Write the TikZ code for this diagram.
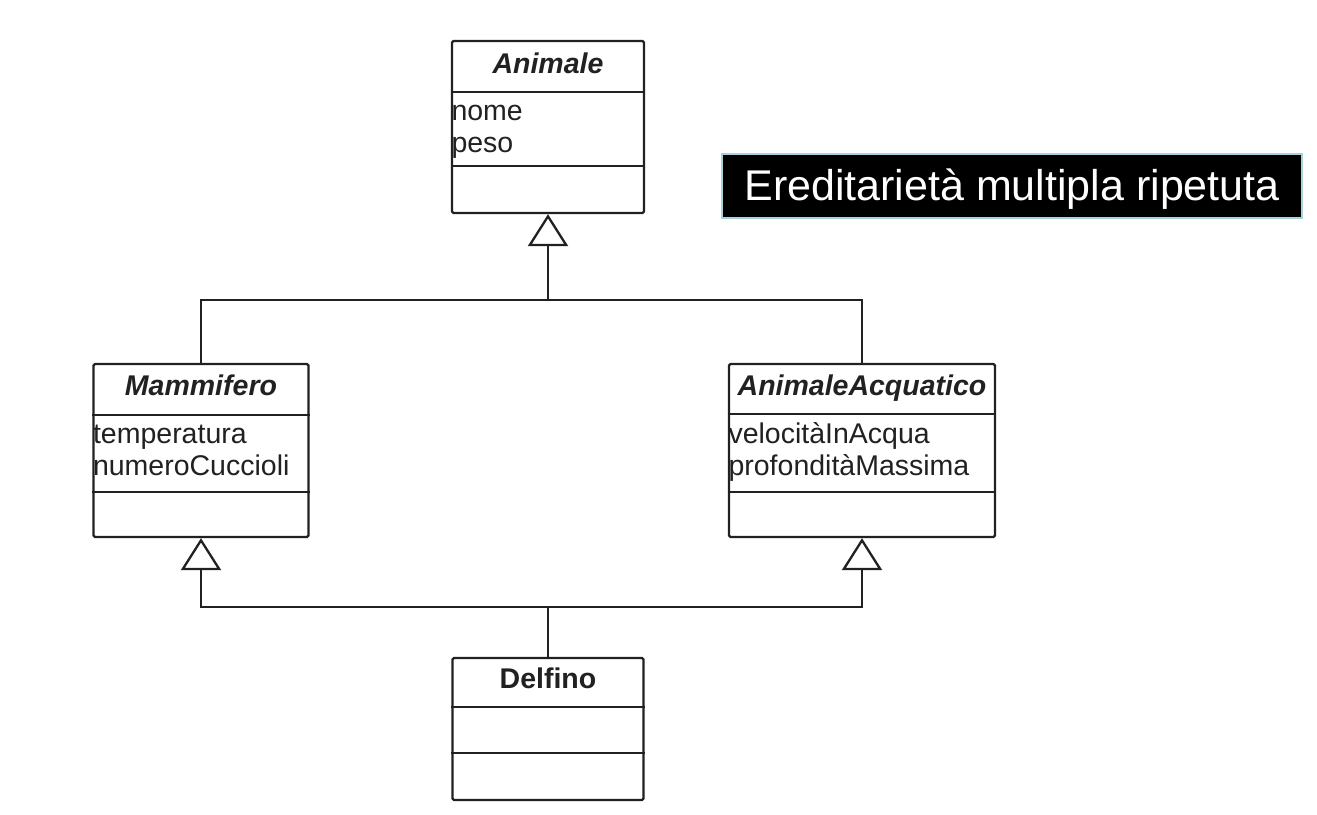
\documentclass[tikz,border=0pt]{standalone}
\usepackage{fontspec}
\setmainfont{Liberation Sans}
\usetikzlibrary{arrows.meta,calc}
\definecolor{ink}{gray}{0.13}
\definecolor{edgeblue}{HTML}{A9D3DB}
\begin{document}
\begin{tikzpicture}[x=1pt,y=-1pt,
  classbox/.style={draw=ink, line width=2.3pt, rounded corners=1.5pt, inner sep=0pt, fill=white},
  cname/.style={font=\fontsize{28.5}{33}\selectfont\bfseries\itshape, text=ink, inner sep=0pt, anchor=base},
  cnameup/.style={font=\fontsize{28.5}{33}\selectfont\bfseries, text=ink, inner sep=0pt, anchor=base},
  attr/.style={font=\fontsize{28.5}{33}\selectfont, text=ink, inner sep=0pt, anchor=base west},
  divider/.style={draw=ink, line width=2.3pt},
  link/.style={draw=ink, line width=2.3pt},
  gen/.style={link, -{Triangle[open, length=32pt, width=40pt]}}
]
\useasboundingbox (0,0) rectangle (1317,814);

% Animale
\node[classbox, minimum width=192pt, minimum height=172pt] (animale) at (548,127) {};
\draw[divider] ($(animale.north west)+(0,52)$) -- ($(animale.north east)+(0,52)$);
\draw[divider] ($(animale.north west)+(0,126)$) -- ($(animale.north east)+(0,126)$);
\node[cname] (animaleN) at ($(animale.north)+(0,34)$) {Animale};
\node[attr] (animaleA1) at ($(animale.north west)+(0.5,81)$) {nome};
\node[attr] (animaleA2) at ($(animale.north west)+(0.5,113)$) {peso};

% Mammifero
\node[classbox, minimum width=215pt, minimum height=173pt] (mamm) at (201,450.5) {};
\draw[divider] ($(mamm.north west)+(0,52)$) -- ($(mamm.north east)+(0,52)$);
\draw[divider] ($(mamm.north west)+(0,129)$) -- ($(mamm.north east)+(0,129)$);
\node[cname] (mammN) at ($(mamm.north)+(0,33)$) {Mammifero};
\node[attr] (mammA1) at ($(mamm.north west)+(0.5,81)$) {temperatura};
\node[attr] (mammA2) at ($(mamm.north west)+(0.5,113)$) {numeroCuccioli};

% AnimaleAcquatico
\node[classbox, minimum width=266pt, minimum height=173pt] (acq) at (862,450.5) {};
\draw[divider] ($(acq.north west)+(0,51)$) -- ($(acq.north east)+(0,51)$);
\draw[divider] ($(acq.north west)+(0,129)$) -- ($(acq.north east)+(0,129)$);
\node[cname] (acqN) at ($(acq.north)+(0,33)$) {AnimaleAcquatico};
\node[attr] (acqA1) at ($(acq.north west)+(0.5,81)$) {velocitàInAcqua};
\node[attr] (acqA2) at ($(acq.north west)+(0.5,113)$) {profonditàMassima};

% Delfino
\node[classbox, minimum width=191pt, minimum height=142pt] (delfino) at (548,729) {};
\draw[divider] ($(delfino.north west)+(0,50)$) -- ($(delfino.north east)+(0,50)$);
\draw[divider] ($(delfino.north west)+(0,96)$) -- ($(delfino.north east)+(0,96)$);
\node[cnameup] (delfinoN) at ($(delfino.north)+(0,32)$) {Delfino};

% generalisation connectors
\coordinate (j1) at (548,300);
\coordinate (j2) at (548,607);
\draw[link] (mamm.north) |- (j1) -| (acq.north);
\draw[gen] (j1) -- (animale.south);
\draw[link] (delfino.north) -- (j2);
\draw[gen] (j2) -| (mamm.south);
\draw[gen] (j2) -| (acq.south);

% title label
\node[fill=black, draw=edgeblue, line width=1.5pt, minimum width=580pt, minimum height=64pt,
      inner sep=0pt, text height=31pt, text depth=2pt, text=white,
      font=\fontsize{43}{50}\selectfont] (title) at (1012,186) {Ereditarietà multipla ripetuta};
\end{tikzpicture}
\end{document}
